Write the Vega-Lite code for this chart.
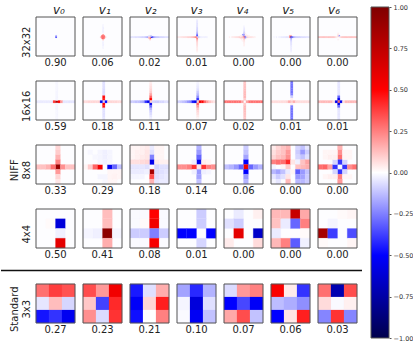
{"$schema":"https://vega.github.io/schema/vega-lite/v6.json","padding":{"left":0,"top":4,"right":0,"bottom":0},"background":"white","config":{"view":{"stroke":null},"text":{"font":"DejaVu Sans"},"title":{"font":"DejaVu Sans"},"axis":{"labelFont":"DejaVu Sans"}},"datasets":{
"d32":[{"c":0,"e":"0.90"},{"c":1,"e":"0.06"},{"c":2,"e":"0.02"},{"c":3,"e":"0.01"},{"c":4,"e":"0.00"},{"c":5,"e":"0.00"},{"c":6,"e":"0.00"},
{"c":0,"i":16,"j":16,"v":-0.5},{"c":0,"i":16,"j":15,"v":-0.2},
{"c":1,"i":16,"j":14,"v":0.2},{"c":1,"i":15,"j":15,"v":0.3},{"c":1,"i":16,"j":15,"v":0.35},{"c":1,"i":17,"j":15,"v":0.25},{"c":1,"i":14,"j":16,"v":0.12},{"c":1,"i":15,"j":16,"v":0.35},{"c":1,"i":16,"j":16,"v":0.3},{"c":1,"i":17,"j":16,"v":0.35},{"c":1,"i":18,"j":16,"v":0.1},{"c":1,"i":15,"j":17,"v":0.2},{"c":1,"i":16,"j":17,"v":0.4},{"c":1,"i":17,"j":17,"v":0.2},{"c":1,"i":16,"j":18,"v":0.15},{"c":1,"i":16,"j":6,"v":-0.02},{"c":1,"i":16,"j":7,"v":-0.02},{"c":1,"i":16,"j":8,"v":-0.03},{"c":1,"i":16,"j":9,"v":-0.03},{"c":1,"i":16,"j":10,"v":-0.03},{"c":1,"i":16,"j":11,"v":-0.03},{"c":1,"i":16,"j":12,"v":-0.03},{"c":1,"i":16,"j":20,"v":-0.03},{"c":1,"i":16,"j":21,"v":-0.03},{"c":1,"i":16,"j":22,"v":-0.03},{"c":1,"i":16,"j":23,"v":-0.03},{"c":1,"i":16,"j":24,"v":-0.02},{"c":1,"i":16,"j":25,"v":-0.02},
{"c":2,"i":0,"j":16,"v":-0.06},{"c":2,"i":1,"j":16,"v":-0.06},{"c":2,"i":2,"j":16,"v":-0.06},{"c":2,"i":3,"j":16,"v":-0.06},{"c":2,"i":4,"j":16,"v":-0.07},{"c":2,"i":5,"j":16,"v":-0.07},{"c":2,"i":6,"j":16,"v":-0.07},{"c":2,"i":7,"j":16,"v":-0.08},{"c":2,"i":8,"j":16,"v":-0.08},{"c":2,"i":9,"j":16,"v":-0.09},{"c":2,"i":10,"j":16,"v":-0.1},{"c":2,"i":11,"j":16,"v":-0.1},{"c":2,"i":12,"j":16,"v":-0.12},{"c":2,"i":13,"j":16,"v":-0.15},{"c":2,"i":14,"j":16,"v":-0.2},{"c":2,"i":15,"j":16,"v":0.15},{"c":2,"i":16,"j":16,"v":0.1},{"c":2,"i":17,"j":16,"v":-0.6},{"c":2,"i":18,"j":16,"v":-0.4},{"c":2,"i":19,"j":16,"v":-0.25},{"c":2,"i":20,"j":16,"v":-0.18},{"c":2,"i":21,"j":16,"v":-0.14},{"c":2,"i":22,"j":16,"v":-0.12},{"c":2,"i":23,"j":16,"v":-0.12},{"c":2,"i":24,"j":16,"v":-0.1},{"c":2,"i":25,"j":16,"v":-0.1},{"c":2,"i":26,"j":16,"v":-0.09},{"c":2,"i":27,"j":16,"v":-0.09},{"c":2,"i":28,"j":16,"v":-0.08},{"c":2,"i":29,"j":16,"v":-0.07},{"c":2,"i":30,"j":16,"v":-0.07},{"c":2,"i":31,"j":16,"v":-0.06},{"c":2,"i":16,"j":15,"v":-0.1},{"c":2,"i":16,"j":17,"v":0.35},{"c":2,"i":15,"j":17,"v":0.1},{"c":2,"i":15,"j":15,"v":-0.05},{"c":2,"i":16,"j":18,"v":0.1},{"c":2,"i":17,"j":15,"v":-0.1},
{"c":3,"i":16,"j":2,"v":-0.04},{"c":3,"i":16,"j":3,"v":-0.05},{"c":3,"i":16,"j":4,"v":-0.05},{"c":3,"i":16,"j":5,"v":-0.06},{"c":3,"i":16,"j":6,"v":-0.06},{"c":3,"i":16,"j":7,"v":-0.07},{"c":3,"i":16,"j":8,"v":-0.08},{"c":3,"i":16,"j":9,"v":-0.09},{"c":3,"i":16,"j":10,"v":-0.1},{"c":3,"i":16,"j":11,"v":-0.12},{"c":3,"i":16,"j":12,"v":-0.15},{"c":3,"i":16,"j":13,"v":-0.2},{"c":3,"i":16,"j":14,"v":-0.3},{"c":3,"i":16,"j":15,"v":-0.45},{"c":3,"i":16,"j":16,"v":0.1},{"c":3,"i":16,"j":17,"v":0.3},{"c":3,"i":16,"j":18,"v":0.2},{"c":3,"i":16,"j":19,"v":0.14},{"c":3,"i":16,"j":20,"v":0.11},{"c":3,"i":16,"j":21,"v":0.09},{"c":3,"i":16,"j":22,"v":0.08},{"c":3,"i":16,"j":23,"v":0.07},{"c":3,"i":16,"j":24,"v":0.06},{"c":3,"i":16,"j":25,"v":0.05},{"c":3,"i":16,"j":26,"v":0.05},{"c":3,"i":16,"j":27,"v":0.04},{"c":3,"i":16,"j":28,"v":0.03},{"c":3,"i":0,"j":16,"v":0.04},{"c":3,"i":1,"j":16,"v":0.05},{"c":3,"i":2,"j":16,"v":0.05},{"c":3,"i":3,"j":16,"v":0.06},{"c":3,"i":4,"j":16,"v":0.06},{"c":3,"i":5,"j":16,"v":0.07},{"c":3,"i":6,"j":16,"v":0.08},{"c":3,"i":7,"j":16,"v":0.08},{"c":3,"i":8,"j":16,"v":0.09},{"c":3,"i":9,"j":16,"v":0.1},{"c":3,"i":10,"j":16,"v":0.1},{"c":3,"i":11,"j":16,"v":0.12},{"c":3,"i":12,"j":16,"v":0.14},{"c":3,"i":13,"j":16,"v":0.16},{"c":3,"i":14,"j":16,"v":0.2},{"c":3,"i":15,"j":16,"v":0.3},{"c":3,"i":17,"j":16,"v":-0.12},{"c":3,"i":18,"j":16,"v":-0.06},{"c":3,"i":19,"j":16,"v":-0.04},{"c":3,"i":20,"j":16,"v":-0.03},{"c":3,"i":21,"j":16,"v":-0.03},{"c":3,"i":22,"j":16,"v":-0.03},{"c":3,"i":23,"j":16,"v":-0.03},{"c":3,"i":24,"j":16,"v":-0.03},
{"c":4,"i":15,"j":14,"v":-0.25},{"c":4,"i":16,"j":14,"v":-0.2},{"c":4,"i":15,"j":15,"v":-0.12},{"c":4,"i":16,"j":15,"v":-0.25},{"c":4,"i":17,"j":15,"v":0.08},{"c":4,"i":16,"j":16,"v":0.4},{"c":4,"i":17,"j":16,"v":-0.35},{"c":4,"i":18,"j":16,"v":-0.2},{"c":4,"i":16,"j":17,"v":0.2},{"c":4,"i":15,"j":17,"v":0.05},{"c":4,"i":17,"j":17,"v":-0.12},{"c":4,"i":15,"j":16,"v":0.15},{"c":4,"i":4,"j":16,"v":0.03},{"c":4,"i":6,"j":16,"v":0.04},{"c":4,"i":7,"j":16,"v":0.05},{"c":4,"i":8,"j":16,"v":0.05},{"c":4,"i":9,"j":16,"v":0.06},{"c":4,"i":10,"j":16,"v":0.07},{"c":4,"i":11,"j":16,"v":0.08},{"c":4,"i":12,"j":16,"v":0.1},{"c":4,"i":13,"j":16,"v":0.12},{"c":4,"i":14,"j":16,"v":0.14},{"c":4,"i":19,"j":16,"v":0.1},{"c":4,"i":20,"j":16,"v":0.08},{"c":4,"i":21,"j":16,"v":0.07},{"c":4,"i":22,"j":16,"v":0.06},{"c":4,"i":23,"j":16,"v":0.05},{"c":4,"i":24,"j":16,"v":0.04},{"c":4,"i":25,"j":16,"v":0.03},{"c":4,"i":16,"j":7,"v":-0.02},{"c":4,"i":16,"j":8,"v":-0.03},{"c":4,"i":16,"j":9,"v":-0.04},{"c":4,"i":16,"j":10,"v":-0.05},{"c":4,"i":16,"j":11,"v":-0.07},{"c":4,"i":16,"j":12,"v":-0.09},{"c":4,"i":16,"j":13,"v":-0.14},{"c":4,"i":16,"j":18,"v":0.1},{"c":4,"i":16,"j":19,"v":0.07},{"c":4,"i":16,"j":20,"v":0.05},{"c":4,"i":16,"j":21,"v":0.04},{"c":4,"i":16,"j":22,"v":0.03},{"c":4,"i":16,"j":23,"v":0.03},{"c":4,"i":13,"j":15,"v":0.03},{"c":4,"i":14,"j":15,"v":0.04},{"c":4,"i":18,"j":15,"v":0.05},{"c":4,"i":19,"j":15,"v":0.04},{"c":4,"i":20,"j":15,"v":0.03},{"c":4,"i":18,"j":14,"v":0.03},{"c":4,"i":17,"j":13,"v":0.03},{"c":4,"i":13,"j":17,"v":0.04},{"c":4,"i":14,"j":17,"v":0.05},{"c":4,"i":14,"j":18,"v":0.03},{"c":4,"i":15,"j":19,"v":0.03},{"c":4,"i":18,"j":17,"v":0.03},
{"c":5,"i":15,"j":15,"v":0.2},{"c":5,"i":16,"j":15,"v":0.2},{"c":5,"i":15,"j":16,"v":0.4},{"c":5,"i":16,"j":16,"v":-0.6},{"c":5,"i":17,"j":16,"v":-0.35},{"c":5,"i":18,"j":16,"v":-0.2},{"c":5,"i":16,"j":17,"v":-0.2},{"c":5,"i":14,"j":16,"v":-0.05},{"c":5,"i":19,"j":16,"v":-0.15},{"c":5,"i":20,"j":16,"v":-0.12},{"c":5,"i":21,"j":16,"v":-0.11},{"c":5,"i":22,"j":16,"v":-0.1},{"c":5,"i":23,"j":16,"v":-0.1},{"c":5,"i":24,"j":16,"v":-0.09},{"c":5,"i":25,"j":16,"v":-0.08},{"c":5,"i":26,"j":16,"v":-0.08},{"c":5,"i":27,"j":16,"v":-0.07},{"c":5,"i":28,"j":16,"v":-0.07},{"c":5,"i":29,"j":16,"v":-0.06},{"c":5,"i":30,"j":16,"v":-0.06},{"c":5,"i":31,"j":16,"v":-0.05},{"c":5,"i":2,"j":16,"v":-0.02},{"c":5,"i":4,"j":16,"v":-0.03},{"c":5,"i":6,"j":16,"v":-0.03},{"c":5,"i":7,"j":16,"v":-0.03},{"c":5,"i":8,"j":16,"v":-0.04},{"c":5,"i":9,"j":16,"v":-0.04},{"c":5,"i":10,"j":16,"v":-0.05},{"c":5,"i":11,"j":16,"v":-0.05},{"c":5,"i":12,"j":16,"v":-0.06},{"c":5,"i":13,"j":16,"v":-0.06},{"c":5,"i":16,"j":18,"v":-0.14},{"c":5,"i":16,"j":19,"v":-0.1},{"c":5,"i":16,"j":20,"v":-0.08},{"c":5,"i":16,"j":21,"v":-0.07},{"c":5,"i":16,"j":22,"v":-0.06},{"c":5,"i":16,"j":23,"v":-0.05},{"c":5,"i":16,"j":24,"v":-0.05},{"c":5,"i":16,"j":25,"v":-0.04},{"c":5,"i":16,"j":26,"v":-0.04},{"c":5,"i":16,"j":27,"v":-0.03},{"c":5,"i":16,"j":28,"v":-0.03},
{"c":6,"i":0,"j":16,"v":0.14},{"c":6,"i":1,"j":16,"v":0.14},{"c":6,"i":2,"j":16,"v":0.14},{"c":6,"i":3,"j":16,"v":0.14},{"c":6,"i":4,"j":16,"v":0.14},{"c":6,"i":5,"j":16,"v":0.14},{"c":6,"i":6,"j":16,"v":0.14},{"c":6,"i":7,"j":16,"v":0.14},{"c":6,"i":8,"j":16,"v":0.14},{"c":6,"i":9,"j":16,"v":0.14},{"c":6,"i":10,"j":16,"v":0.14},{"c":6,"i":11,"j":16,"v":0.14},{"c":6,"i":12,"j":16,"v":0.14},{"c":6,"i":13,"j":16,"v":0.12},{"c":6,"i":14,"j":16,"v":0.08},{"c":6,"i":15,"j":16,"v":0.05},{"c":6,"i":16,"j":15,"v":0.1},{"c":6,"i":17,"j":15,"v":-0.25},{"c":6,"i":17,"j":16,"v":0.04},{"c":6,"i":18,"j":16,"v":0.08},{"c":6,"i":19,"j":16,"v":0.12},{"c":6,"i":20,"j":16,"v":0.14},{"c":6,"i":21,"j":16,"v":0.14},{"c":6,"i":22,"j":16,"v":0.14},{"c":6,"i":23,"j":16,"v":0.14},{"c":6,"i":24,"j":16,"v":0.14},{"c":6,"i":25,"j":16,"v":0.14},{"c":6,"i":26,"j":16,"v":0.14},{"c":6,"i":27,"j":16,"v":0.14},{"c":6,"i":28,"j":16,"v":0.14},{"c":6,"i":29,"j":16,"v":0.14},{"c":6,"i":30,"j":16,"v":0.14},{"c":6,"i":31,"j":16,"v":0.14},{"c":6,"i":16,"j":14,"v":0.05},{"c":6,"i":16,"j":13,"v":0.03},{"c":6,"i":16,"j":18,"v":0.03}],
"d16":[{"c":0,"e":"0.59"},{"c":1,"e":"0.18"},{"c":2,"e":"0.11"},{"c":3,"e":"0.07"},{"c":4,"e":"0.02"},{"c":5,"e":"0.01"},{"c":6,"e":"0.01"},
{"c":0,"i":0,"j":8,"v":-0.04},{"c":0,"i":1,"j":8,"v":-0.04},{"c":0,"i":2,"j":8,"v":-0.04},{"c":0,"i":3,"j":8,"v":-0.04},{"c":0,"i":4,"j":8,"v":-0.04},{"c":0,"i":5,"j":8,"v":-0.04},{"c":0,"i":6,"j":8,"v":-0.04},{"c":0,"i":7,"j":8,"v":0.4},{"c":0,"i":8,"j":8,"v":0.8},{"c":0,"i":9,"j":8,"v":0.5},{"c":0,"i":10,"j":8,"v":0.2},{"c":0,"i":11,"j":8,"v":-0.05},{"c":0,"i":12,"j":8,"v":-0.05},{"c":0,"i":13,"j":8,"v":-0.05},{"c":0,"i":14,"j":8,"v":-0.05},{"c":0,"i":15,"j":8,"v":-0.05},{"c":0,"i":8,"j":0,"v":-0.015},{"c":0,"i":8,"j":1,"v":-0.015},{"c":0,"i":8,"j":2,"v":-0.015},{"c":0,"i":8,"j":3,"v":-0.015},{"c":0,"i":8,"j":4,"v":-0.02},{"c":0,"i":8,"j":5,"v":-0.02},{"c":0,"i":8,"j":6,"v":-0.02},{"c":0,"i":8,"j":7,"v":-0.02},{"c":0,"i":8,"j":9,"v":-0.02},{"c":0,"i":8,"j":10,"v":-0.02},{"c":0,"i":8,"j":11,"v":-0.02},{"c":0,"i":8,"j":12,"v":-0.015},{"c":0,"i":8,"j":13,"v":-0.015},{"c":0,"i":8,"j":14,"v":-0.015},{"c":0,"i":8,"j":15,"v":-0.015},
{"c":1,"i":8,"j":0,"v":-0.06},{"c":1,"i":8,"j":1,"v":-0.06},{"c":1,"i":8,"j":2,"v":-0.06},{"c":1,"i":8,"j":3,"v":-0.07},{"c":1,"i":8,"j":4,"v":-0.07},{"c":1,"i":8,"j":5,"v":-0.07},{"c":1,"i":8,"j":6,"v":0.48},{"c":1,"i":8,"j":7,"v":0.45},{"c":1,"i":8,"j":8,"v":-0.1},{"c":1,"i":8,"j":9,"v":0.5},{"c":1,"i":8,"j":10,"v":0.48},{"c":1,"i":8,"j":11,"v":-0.07},{"c":1,"i":8,"j":12,"v":-0.06},{"c":1,"i":8,"j":13,"v":-0.06},{"c":1,"i":8,"j":14,"v":-0.06},{"c":1,"i":8,"j":15,"v":-0.05},{"c":1,"i":0,"j":8,"v":0.07},{"c":1,"i":1,"j":8,"v":0.07},{"c":1,"i":2,"j":8,"v":0.08},{"c":1,"i":3,"j":8,"v":0.08},{"c":1,"i":4,"j":8,"v":0.08},{"c":1,"i":5,"j":8,"v":0.08},{"c":1,"i":6,"j":8,"v":0.08},{"c":1,"i":7,"j":8,"v":-0.55},{"c":1,"i":9,"j":8,"v":-0.5},{"c":1,"i":10,"j":8,"v":0.1},{"c":1,"i":11,"j":8,"v":0.08},{"c":1,"i":12,"j":8,"v":0.08},{"c":1,"i":13,"j":8,"v":0.08},{"c":1,"i":14,"j":8,"v":0.07},{"c":1,"i":15,"j":8,"v":0.07},
{"c":2,"i":8,"j":0,"v":0.03},{"c":2,"i":8,"j":1,"v":0.05},{"c":2,"i":8,"j":2,"v":0.06},{"c":2,"i":8,"j":3,"v":0.08},{"c":2,"i":8,"j":4,"v":0.1},{"c":2,"i":8,"j":5,"v":0.18},{"c":2,"i":8,"j":6,"v":0.3},{"c":2,"i":8,"j":7,"v":0.5},{"c":2,"i":8,"j":8,"v":0.1},{"c":2,"i":8,"j":9,"v":-0.55},{"c":2,"i":8,"j":10,"v":-0.3},{"c":2,"i":8,"j":11,"v":-0.15},{"c":2,"i":8,"j":12,"v":-0.1},{"c":2,"i":8,"j":13,"v":-0.07},{"c":2,"i":8,"j":14,"v":-0.05},{"c":2,"i":8,"j":15,"v":-0.03},{"c":2,"i":0,"j":8,"v":-0.1},{"c":2,"i":1,"j":8,"v":-0.1},{"c":2,"i":2,"j":8,"v":-0.12},{"c":2,"i":3,"j":8,"v":-0.12},{"c":2,"i":4,"j":8,"v":-0.15},{"c":2,"i":5,"j":8,"v":-0.18},{"c":2,"i":6,"j":8,"v":-0.4},{"c":2,"i":7,"j":8,"v":-0.55},{"c":2,"i":9,"j":8,"v":-0.08},{"c":2,"i":10,"j":8,"v":-0.1},{"c":2,"i":11,"j":8,"v":-0.1},{"c":2,"i":12,"j":8,"v":-0.08},{"c":2,"i":13,"j":8,"v":-0.08},{"c":2,"i":14,"j":8,"v":-0.06},{"c":2,"i":15,"j":8,"v":-0.06},
{"c":3,"i":8,"j":0,"v":-0.02},{"c":3,"i":8,"j":1,"v":-0.03},{"c":3,"i":8,"j":2,"v":-0.04},{"c":3,"i":8,"j":3,"v":-0.06},{"c":3,"i":8,"j":4,"v":-0.1},{"c":3,"i":8,"j":5,"v":-0.14},{"c":3,"i":8,"j":6,"v":-0.22},{"c":3,"i":8,"j":7,"v":-0.4},{"c":3,"i":8,"j":8,"v":0.1},{"c":3,"i":8,"j":9,"v":0.3},{"c":3,"i":8,"j":10,"v":0.2},{"c":3,"i":8,"j":11,"v":0.12},{"c":3,"i":8,"j":12,"v":0.08},{"c":3,"i":8,"j":13,"v":0.06},{"c":3,"i":8,"j":14,"v":0.04},{"c":3,"i":8,"j":15,"v":0.02},{"c":3,"i":0,"j":8,"v":-0.08},{"c":3,"i":1,"j":8,"v":-0.1},{"c":3,"i":2,"j":8,"v":-0.12},{"c":3,"i":3,"j":8,"v":-0.15},{"c":3,"i":4,"j":8,"v":-0.2},{"c":3,"i":5,"j":8,"v":-0.25},{"c":3,"i":6,"j":8,"v":-0.45},{"c":3,"i":7,"j":8,"v":-0.55},{"c":3,"i":9,"j":8,"v":0.55},{"c":3,"i":10,"j":8,"v":0.5},{"c":3,"i":11,"j":8,"v":0.3},{"c":3,"i":12,"j":8,"v":0.2},{"c":3,"i":13,"j":8,"v":0.12},{"c":3,"i":14,"j":8,"v":0.08},{"c":3,"i":15,"j":8,"v":0.05},
{"c":4,"i":8,"j":0,"v":0.11},{"c":4,"i":8,"j":1,"v":0.12},{"c":4,"i":8,"j":2,"v":0.12},{"c":4,"i":8,"j":3,"v":0.13},{"c":4,"i":8,"j":4,"v":0.13},{"c":4,"i":8,"j":5,"v":0.14},{"c":4,"i":8,"j":6,"v":0.14},{"c":4,"i":8,"j":7,"v":0.1},{"c":4,"i":8,"j":9,"v":0.1},{"c":4,"i":8,"j":10,"v":0.14},{"c":4,"i":8,"j":11,"v":0.14},{"c":4,"i":8,"j":12,"v":0.13},{"c":4,"i":8,"j":13,"v":0.12},{"c":4,"i":8,"j":14,"v":0.12},{"c":4,"i":8,"j":15,"v":0.11},{"c":4,"i":0,"j":8,"v":0.28},{"c":4,"i":1,"j":8,"v":0.28},{"c":4,"i":2,"j":8,"v":0.28},{"c":4,"i":3,"j":8,"v":0.28},{"c":4,"i":4,"j":8,"v":0.28},{"c":4,"i":5,"j":8,"v":0.28},{"c":4,"i":6,"j":8,"v":0.28},{"c":4,"i":7,"j":8,"v":0.18},{"c":4,"i":9,"j":8,"v":0.18},{"c":4,"i":10,"j":8,"v":0.28},{"c":4,"i":11,"j":8,"v":0.28},{"c":4,"i":12,"j":8,"v":0.28},{"c":4,"i":13,"j":8,"v":0.28},{"c":4,"i":14,"j":8,"v":0.28},{"c":4,"i":15,"j":8,"v":0.28},
{"c":5,"i":8,"j":0,"v":-0.28},{"c":5,"i":8,"j":1,"v":-0.28},{"c":5,"i":8,"j":2,"v":-0.28},{"c":5,"i":8,"j":3,"v":-0.28},{"c":5,"i":8,"j":4,"v":-0.28},{"c":5,"i":8,"j":5,"v":-0.26},{"c":5,"i":8,"j":6,"v":-0.1},{"c":5,"i":8,"j":7,"v":0.03},{"c":5,"i":8,"j":8,"v":0.1},{"c":5,"i":8,"j":9,"v":0.03},{"c":5,"i":8,"j":10,"v":-0.26},{"c":5,"i":8,"j":11,"v":-0.28},{"c":5,"i":8,"j":12,"v":-0.28},{"c":5,"i":8,"j":13,"v":-0.28},{"c":5,"i":8,"j":14,"v":-0.28},{"c":5,"i":8,"j":15,"v":-0.28},{"c":5,"i":0,"j":8,"v":0.07},{"c":5,"i":1,"j":8,"v":0.07},{"c":5,"i":2,"j":8,"v":0.07},{"c":5,"i":3,"j":8,"v":0.07},{"c":5,"i":4,"j":8,"v":0.07},{"c":5,"i":5,"j":8,"v":0.07},{"c":5,"i":6,"j":8,"v":0.08},{"c":5,"i":7,"j":8,"v":0.16},{"c":5,"i":9,"j":8,"v":0.16},{"c":5,"i":10,"j":8,"v":0.08},{"c":5,"i":11,"j":8,"v":0.07},{"c":5,"i":12,"j":8,"v":0.07},{"c":5,"i":13,"j":8,"v":0.07},{"c":5,"i":14,"j":8,"v":0.07},{"c":5,"i":15,"j":8,"v":0.07},
{"c":6,"i":8,"j":0,"v":-0.05},{"c":6,"i":8,"j":1,"v":-0.05},{"c":6,"i":8,"j":2,"v":-0.05},{"c":6,"i":8,"j":3,"v":-0.05},{"c":6,"i":8,"j":4,"v":-0.05},{"c":6,"i":8,"j":5,"v":-0.06},{"c":6,"i":8,"j":6,"v":-0.3},{"c":6,"i":8,"j":7,"v":-0.55},{"c":6,"i":8,"j":8,"v":0.3},{"c":6,"i":8,"j":9,"v":-0.55},{"c":6,"i":8,"j":10,"v":-0.3},{"c":6,"i":8,"j":11,"v":-0.06},{"c":6,"i":8,"j":12,"v":-0.05},{"c":6,"i":8,"j":13,"v":-0.05},{"c":6,"i":8,"j":14,"v":-0.05},{"c":6,"i":8,"j":15,"v":-0.05},{"c":6,"i":0,"j":8,"v":0.14},{"c":6,"i":1,"j":8,"v":0.14},{"c":6,"i":2,"j":8,"v":0.14},{"c":6,"i":3,"j":8,"v":0.14},{"c":6,"i":4,"j":8,"v":0.14},{"c":6,"i":5,"j":8,"v":0.14},{"c":6,"i":6,"j":8,"v":0.06},{"c":6,"i":7,"j":8,"v":-0.55},{"c":6,"i":9,"j":8,"v":-0.55},{"c":6,"i":10,"j":8,"v":0.06},{"c":6,"i":11,"j":8,"v":0.14},{"c":6,"i":12,"j":8,"v":0.14},{"c":6,"i":13,"j":8,"v":0.14},{"c":6,"i":14,"j":8,"v":0.14},{"c":6,"i":15,"j":8,"v":0.14}],
"d8":[{"c":0,"e":"0.33"},{"c":1,"e":"0.29"},{"c":2,"e":"0.18"},{"c":3,"e":"0.14"},{"c":4,"e":"0.06"},{"c":5,"e":"0.00"},{"c":6,"e":"0.00"},
{"c":0,"i":4,"j":0,"v":0.08},{"c":0,"i":4,"j":1,"v":0.1},{"c":0,"i":4,"j":2,"v":0.15},{"c":0,"i":4,"j":3,"v":0.25},{"c":0,"i":4,"j":4,"v":0.9},{"c":0,"i":4,"j":5,"v":0.2},{"c":0,"i":4,"j":6,"v":0.08},{"c":0,"i":4,"j":7,"v":0.05},{"c":0,"i":0,"j":4,"v":0.12},{"c":0,"i":1,"j":4,"v":0.12},{"c":0,"i":2,"j":4,"v":0.15},{"c":0,"i":3,"j":4,"v":0.28},{"c":0,"i":5,"j":4,"v":0.22},{"c":0,"i":6,"j":4,"v":0.12},{"c":0,"i":7,"j":4,"v":0.12},
{"c":1,"i":0,"j":4,"v":0.02},{"c":1,"i":1,"j":4,"v":0.1},{"c":1,"i":2,"j":4,"v":0.3},{"c":1,"i":3,"j":4,"v":0.55},{"c":1,"i":5,"j":4,"v":-0.55},{"c":1,"i":6,"j":4,"v":-0.3},{"c":1,"i":7,"j":4,"v":-0.12},{"c":1,"i":3,"j":1,"v":-0.02},{"c":1,"i":4,"j":1,"v":-0.03},{"c":1,"i":5,"j":1,"v":-0.02},{"c":1,"i":3,"j":2,"v":-0.02},{"c":1,"i":4,"j":2,"v":-0.03},{"c":1,"i":5,"j":2,"v":-0.02},{"c":1,"i":3,"j":3,"v":-0.02},{"c":1,"i":4,"j":3,"v":-0.03},{"c":1,"i":5,"j":3,"v":-0.02},{"c":1,"i":1,"j":1,"v":-0.015},{"c":1,"i":2,"j":2,"v":-0.015},{"c":1,"i":5,"j":5,"v":0.02},{"c":1,"i":6,"j":5,"v":0.02},{"c":1,"i":7,"j":5,"v":0.02},{"c":1,"i":5,"j":6,"v":0.02},{"c":1,"i":6,"j":6,"v":0.025},{"c":1,"i":7,"j":6,"v":0.02},{"c":1,"i":5,"j":7,"v":0.02},{"c":1,"i":6,"j":7,"v":0.02},{"c":1,"i":3,"j":6,"v":-0.02},{"c":1,"i":4,"j":6,"v":-0.02},{"c":1,"i":4,"j":7,"v":-0.015},
{"c":2,"i":4,"j":0,"v":-0.04},{"c":2,"i":4,"j":1,"v":-0.06},{"c":2,"i":4,"j":2,"v":-0.25},{"c":2,"i":4,"j":3,"v":-0.55},{"c":2,"i":4,"j":5,"v":0.85},{"c":2,"i":4,"j":6,"v":0.35},{"c":2,"i":4,"j":7,"v":0.15},{"c":2,"i":0,"j":0,"v":0.02},{"c":2,"i":1,"j":0,"v":0.02},{"c":2,"i":2,"j":0,"v":0.03},{"c":2,"i":3,"j":0,"v":0.04},{"c":2,"i":0,"j":1,"v":0.02},{"c":2,"i":1,"j":1,"v":0.03},{"c":2,"i":2,"j":1,"v":0.03},{"c":2,"i":3,"j":1,"v":0.05},{"c":2,"i":0,"j":2,"v":0.02},{"c":2,"i":1,"j":2,"v":0.03},{"c":2,"i":2,"j":2,"v":0.04},{"c":2,"i":3,"j":2,"v":0.05},{"c":2,"i":0,"j":3,"v":0.06},{"c":2,"i":1,"j":3,"v":0.06},{"c":2,"i":2,"j":3,"v":0.07},{"c":2,"i":3,"j":3,"v":0.08},{"c":2,"i":5,"j":0,"v":0.02},{"c":2,"i":6,"j":0,"v":0.02},{"c":2,"i":5,"j":1,"v":0.02},{"c":2,"i":6,"j":1,"v":0.02},{"c":2,"i":5,"j":2,"v":0.02},{"c":2,"i":6,"j":2,"v":0.02},{"c":2,"i":5,"j":3,"v":0.04},{"c":2,"i":6,"j":3,"v":0.03},{"c":2,"i":7,"j":3,"v":0.03},{"c":2,"i":0,"j":4,"v":-0.05},{"c":2,"i":1,"j":4,"v":-0.05},{"c":2,"i":2,"j":4,"v":-0.05},{"c":2,"i":3,"j":4,"v":-0.06},{"c":2,"i":5,"j":4,"v":-0.08},{"c":2,"i":6,"j":4,"v":-0.06},{"c":2,"i":7,"j":4,"v":-0.06},{"c":2,"i":0,"j":5,"v":-0.04},{"c":2,"i":1,"j":5,"v":-0.04},{"c":2,"i":2,"j":5,"v":-0.04},{"c":2,"i":3,"j":5,"v":-0.03},{"c":2,"i":5,"j":5,"v":-0.07},{"c":2,"i":6,"j":5,"v":-0.06},{"c":2,"i":7,"j":5,"v":-0.05},{"c":2,"i":0,"j":6,"v":-0.02},{"c":2,"i":1,"j":6,"v":-0.02},{"c":2,"i":2,"j":6,"v":-0.02},{"c":2,"i":5,"j":6,"v":-0.06},{"c":2,"i":6,"j":6,"v":-0.05},{"c":2,"i":7,"j":6,"v":-0.04},{"c":2,"i":5,"j":7,"v":-0.05},{"c":2,"i":6,"j":7,"v":-0.04},{"c":2,"i":7,"j":7,"v":-0.04},
{"c":3,"i":4,"j":0,"v":-0.15},{"c":3,"i":4,"j":1,"v":-0.2},{"c":3,"i":4,"j":2,"v":-0.3},{"c":3,"i":4,"j":3,"v":-0.55},{"c":3,"i":4,"j":4,"v":0.05},{"c":3,"i":4,"j":5,"v":-0.2},{"c":3,"i":4,"j":6,"v":-0.18},{"c":3,"i":4,"j":7,"v":-0.12},{"c":3,"i":0,"j":4,"v":0.22},{"c":3,"i":1,"j":4,"v":0.22},{"c":3,"i":2,"j":4,"v":0.25},{"c":3,"i":3,"j":4,"v":0.4},{"c":3,"i":5,"j":4,"v":0.4},{"c":3,"i":6,"j":4,"v":0.25},{"c":3,"i":7,"j":4,"v":0.22},{"c":3,"i":5,"j":3,"v":0.03},{"c":3,"i":6,"j":3,"v":0.02},{"c":3,"i":3,"j":3,"v":-0.03},{"c":3,"i":5,"j":5,"v":-0.03},{"c":3,"i":6,"j":5,"v":-0.02},{"c":3,"i":3,"j":5,"v":-0.03},
{"c":4,"i":4,"j":0,"v":-0.1},{"c":4,"i":4,"j":1,"v":-0.12},{"c":4,"i":4,"j":2,"v":-0.18},{"c":4,"i":4,"j":3,"v":-0.5},{"c":4,"i":4,"j":4,"v":0.55},{"c":4,"i":4,"j":5,"v":-0.5},{"c":4,"i":4,"j":6,"v":-0.2},{"c":4,"i":4,"j":7,"v":-0.15},{"c":4,"i":0,"j":4,"v":-0.12},{"c":4,"i":1,"j":4,"v":-0.15},{"c":4,"i":2,"j":4,"v":-0.2},{"c":4,"i":3,"j":4,"v":-0.3},{"c":4,"i":5,"j":4,"v":-0.3},{"c":4,"i":6,"j":4,"v":-0.2},{"c":4,"i":7,"j":4,"v":-0.15},
{"c":5,"i":0,"j":0,"v":0.04},{"c":5,"i":1,"j":0,"v":0.08},{"c":5,"i":2,"j":0,"v":0.12},{"c":5,"i":3,"j":0,"v":0.15},{"c":5,"i":5,"j":0,"v":-0.08},{"c":5,"i":6,"j":0,"v":-0.12},{"c":5,"i":7,"j":0,"v":-0.05},{"c":5,"i":0,"j":1,"v":0.06},{"c":5,"i":1,"j":1,"v":0.1},{"c":5,"i":2,"j":1,"v":0.12},{"c":5,"i":3,"j":1,"v":0.2},{"c":5,"i":5,"j":1,"v":-0.1},{"c":5,"i":6,"j":1,"v":-0.2},{"c":5,"i":7,"j":1,"v":-0.1},{"c":5,"i":0,"j":2,"v":0.08},{"c":5,"i":1,"j":2,"v":0.12},{"c":5,"i":2,"j":2,"v":0.14},{"c":5,"i":3,"j":2,"v":0.22},{"c":5,"i":5,"j":2,"v":-0.08},{"c":5,"i":6,"j":2,"v":-0.12},{"c":5,"i":7,"j":2,"v":-0.06},{"c":5,"i":0,"j":3,"v":0.25},{"c":5,"i":1,"j":3,"v":0.28},{"c":5,"i":2,"j":3,"v":0.28},{"c":5,"i":3,"j":3,"v":0.42},{"c":5,"i":4,"j":3,"v":0.05},{"c":5,"i":5,"j":3,"v":-0.03},{"c":5,"i":6,"j":3,"v":0.12},{"c":5,"i":7,"j":3,"v":0.18},{"c":5,"i":0,"j":4,"v":-0.02},{"c":5,"i":2,"j":4,"v":0.02},{"c":5,"i":3,"j":4,"v":0.1},{"c":5,"i":5,"j":4,"v":0.12},{"c":5,"i":6,"j":4,"v":0.14},{"c":5,"i":7,"j":4,"v":0.16},{"c":5,"i":0,"j":5,"v":-0.14},{"c":5,"i":1,"j":5,"v":-0.18},{"c":5,"i":2,"j":5,"v":-0.12},{"c":5,"i":3,"j":5,"v":-0.04},{"c":5,"i":4,"j":5,"v":0.02},{"c":5,"i":5,"j":5,"v":-0.32},{"c":5,"i":6,"j":5,"v":-0.2},{"c":5,"i":7,"j":5,"v":-0.12},{"c":5,"i":0,"j":6,"v":-0.05},{"c":5,"i":1,"j":6,"v":-0.1},{"c":5,"i":2,"j":6,"v":-0.06},{"c":5,"i":3,"j":6,"v":0.05},{"c":5,"i":5,"j":6,"v":-0.2},{"c":5,"i":6,"j":6,"v":-0.18},{"c":5,"i":7,"j":6,"v":-0.1},{"c":5,"i":0,"j":7,"v":-0.02},{"c":5,"i":1,"j":7,"v":-0.05},{"c":5,"i":3,"j":7,"v":0.14},{"c":5,"i":5,"j":7,"v":-0.14},{"c":5,"i":6,"j":7,"v":-0.14},{"c":5,"i":7,"j":7,"v":-0.1},
{"c":6,"i":4,"j":0,"v":0.15},{"c":6,"i":4,"j":1,"v":0.22},{"c":6,"i":4,"j":2,"v":0.28},{"c":6,"i":4,"j":3,"v":-0.4},{"c":6,"i":4,"j":5,"v":-0.4},{"c":6,"i":4,"j":6,"v":0.25},{"c":6,"i":4,"j":7,"v":0.2},{"c":6,"i":0,"j":4,"v":0.28},{"c":6,"i":1,"j":4,"v":0.3},{"c":6,"i":2,"j":4,"v":0.18},{"c":6,"i":3,"j":4,"v":-0.4},{"c":6,"i":5,"j":4,"v":-0.4},{"c":6,"i":6,"j":4,"v":0.22},{"c":6,"i":7,"j":4,"v":0.28},{"c":6,"i":3,"j":3,"v":-0.08},{"c":6,"i":5,"j":3,"v":-0.08},{"c":6,"i":3,"j":5,"v":-0.08},{"c":6,"i":5,"j":5,"v":-0.08},{"c":6,"i":1,"j":1,"v":0.02},{"c":6,"i":2,"j":1,"v":0.02},{"c":6,"i":3,"j":1,"v":0.02},{"c":6,"i":1,"j":2,"v":0.02},{"c":6,"i":2,"j":2,"v":0.03},{"c":6,"i":3,"j":2,"v":0.03},{"c":6,"i":5,"j":1,"v":0.02},{"c":6,"i":6,"j":1,"v":0.02},{"c":6,"i":5,"j":2,"v":0.02},{"c":6,"i":6,"j":2,"v":0.02},{"c":6,"i":1,"j":6,"v":0.02},{"c":6,"i":2,"j":6,"v":0.03},{"c":6,"i":3,"j":6,"v":0.03},{"c":6,"i":5,"j":6,"v":0.02},{"c":6,"i":6,"j":6,"v":0.02}],
"d4":[{"c":0,"e":"0.50"},{"c":1,"e":"0.41"},{"c":2,"e":"0.08"},{"c":3,"e":"0.01"},{"c":4,"e":"0.00"},{"c":5,"e":"0.00"},{"c":6,"e":"0.00"},
{"c":0,"i":1,"j":1,"v":0.01},{"c":0,"i":2,"j":1,"v":-0.6},{"c":0,"i":2,"j":2,"v":-0.03},{"c":0,"i":2,"j":3,"v":0.6},
{"c":1,"i":2,"j":0,"v":0.13},{"c":1,"i":2,"j":1,"v":0.13},{"c":1,"i":0,"j":2,"v":-0.02},{"c":1,"i":1,"j":2,"v":-0.03},{"c":1,"i":2,"j":2,"v":0.95},{"c":1,"i":3,"j":2,"v":-0.02},{"c":1,"i":2,"j":3,"v":0.16},
{"c":2,"i":0,"j":0,"v":-0.01},{"c":2,"i":1,"j":0,"v":-0.01},{"c":2,"i":2,"j":0,"v":0.5},{"c":2,"i":3,"j":0,"v":-0.01},{"c":2,"i":0,"j":1,"v":-0.01},{"c":2,"i":1,"j":1,"v":0.01},{"c":2,"i":2,"j":1,"v":0.55},{"c":2,"i":3,"j":1,"v":-0.01},{"c":2,"i":0,"j":2,"v":-0.1},{"c":2,"i":1,"j":2,"v":-0.1},{"c":2,"i":2,"j":2,"v":-0.25},{"c":2,"i":3,"j":2,"v":-0.1},{"c":2,"i":0,"j":3,"v":-0.01},{"c":2,"i":1,"j":3,"v":-0.01},{"c":2,"i":2,"j":3,"v":0.53},{"c":2,"i":3,"j":3,"v":-0.01},
{"c":3,"i":2,"j":0,"v":-0.1},{"c":3,"i":2,"j":1,"v":-0.1},{"c":3,"i":0,"j":2,"v":-0.5},{"c":3,"i":1,"j":2,"v":-0.5},{"c":3,"i":3,"j":2,"v":-0.5},{"c":3,"i":2,"j":3,"v":-0.08},
{"c":4,"i":1,"j":0,"v":-0.04},{"c":4,"i":3,"j":0,"v":0.03},{"c":4,"i":0,"j":1,"v":-0.06},{"c":4,"i":1,"j":1,"v":-0.1},{"c":4,"i":1,"j":2,"v":0.6},{"c":4,"i":3,"j":2,"v":-0.65},{"c":4,"i":0,"j":3,"v":0.04},{"c":4,"i":3,"j":3,"v":0.07},
{"c":5,"i":0,"j":0,"v":0.14},{"c":5,"i":1,"j":0,"v":0.14},{"c":5,"i":2,"j":0,"v":0.72},{"c":5,"i":3,"j":0,"v":0.17},{"c":5,"i":0,"j":1,"v":0.12},{"c":5,"i":1,"j":1,"v":-0.04},{"c":5,"i":2,"j":1,"v":-0.3},{"c":5,"i":3,"j":1,"v":0.25},{"c":5,"i":0,"j":2,"v":-0.04},{"c":5,"i":3,"j":2,"v":0.01},{"c":5,"i":0,"j":3,"v":0.14},{"c":5,"i":1,"j":3,"v":0.25},{"c":5,"i":2,"j":3,"v":-0.32},{"c":5,"i":3,"j":3,"v":-0.03},
{"c":6,"i":2,"j":0,"v":0.01},{"c":6,"i":3,"j":0,"v":0.02},{"c":6,"i":1,"j":1,"v":-0.02},{"c":6,"i":0,"j":2,"v":0.85},{"c":6,"i":1,"j":2,"v":-0.38},{"c":6,"i":3,"j":2,"v":-0.35},{"c":6,"i":0,"j":3,"v":0.01},{"c":6,"i":3,"j":3,"v":0.02}],
"d3":[{"c":0,"e":"0.27"},{"c":1,"e":"0.23"},{"c":2,"e":"0.21"},{"c":3,"e":"0.10"},{"c":4,"e":"0.07"},{"c":5,"e":"0.06"},{"c":6,"e":"0.03"},
{"c":0,"i":0,"j":0,"v":0.28},{"c":0,"i":1,"j":0,"v":0.38},{"c":0,"i":2,"j":0,"v":0.34},{"c":0,"i":0,"j":1,"v":-0.05},{"c":0,"i":1,"j":1,"v":0.13},{"c":0,"i":2,"j":1,"v":-0.08},{"c":0,"i":0,"j":2,"v":-0.46},{"c":0,"i":1,"j":2,"v":-0.4},{"c":0,"i":2,"j":2,"v":-0.54},
{"c":1,"i":0,"j":0,"v":0.35},{"c":1,"i":1,"j":0,"v":0.2},{"c":1,"i":2,"j":0,"v":0.55},{"c":1,"i":0,"j":1,"v":0.11},{"c":1,"i":1,"j":1,"v":-0.37},{"c":1,"i":2,"j":1,"v":0.42},{"c":1,"i":0,"j":2,"v":0.22},{"c":1,"i":1,"j":2,"v":-0.07},{"c":1,"i":2,"j":2,"v":0.4},
{"c":2,"i":0,"j":0,"v":-0.45},{"c":2,"i":1,"j":0,"v":-0.06},{"c":2,"i":2,"j":0,"v":0.16},{"c":2,"i":0,"j":1,"v":-0.52},{"c":2,"i":1,"j":1,"v":0.08},{"c":2,"i":2,"j":1,"v":0.44},{"c":2,"i":0,"j":2,"v":-0.47},{"c":2,"i":1,"j":2,"v":0},{"c":2,"i":2,"j":2,"v":0.25},
{"c":3,"i":0,"j":0,"v":-0.18},{"c":3,"i":1,"j":0,"v":-0.42},{"c":3,"i":2,"j":0,"v":-0.15},{"c":3,"i":0,"j":1,"v":-0.02},{"c":3,"i":1,"j":1,"v":-0.6},{"c":3,"i":2,"j":1,"v":-0.06},{"c":3,"i":0,"j":2,"v":-0.01},{"c":3,"i":1,"j":2,"v":-0.53},{"c":3,"i":2,"j":2,"v":-0.12},
{"c":4,"i":0,"j":0,"v":-0.07},{"c":4,"i":1,"j":0,"v":0.2},{"c":4,"i":2,"j":0,"v":0.25},{"c":4,"i":0,"j":1,"v":-0.5},{"c":4,"i":1,"j":1,"v":-0.36},{"c":4,"i":2,"j":1,"v":-0.52},{"c":4,"i":0,"j":2,"v":0.17},{"c":4,"i":1,"j":2,"v":0.35},{"c":4,"i":2,"j":2,"v":-0.12},
{"c":5,"i":0,"j":0,"v":0.52},{"c":5,"i":1,"j":0,"v":0.04},{"c":5,"i":2,"j":0,"v":-0.4},{"c":5,"i":0,"j":1,"v":-0.13},{"c":5,"i":1,"j":1,"v":-0.16},{"c":5,"i":2,"j":1,"v":-0.22},{"c":5,"i":0,"j":2,"v":-0.5},{"c":5,"i":1,"j":2,"v":0.05},{"c":5,"i":2,"j":2,"v":0.44},
{"c":6,"i":0,"j":0,"v":0.28},{"c":6,"i":1,"j":0,"v":-0.72},{"c":6,"i":2,"j":0,"v":0.35},{"c":6,"i":0,"j":1,"v":0.07},{"c":6,"i":1,"j":1,"v":-0.01},{"c":6,"i":2,"j":1,"v":0.03},{"c":6,"i":0,"j":2,"v":-0.24},{"c":6,"i":1,"j":2,"v":0.4},{"c":6,"i":2,"j":2,"v":-0.24}]},
"hconcat":[{"spacing":0,"vconcat":[
{"data":{"values":[{"n":"v₀"},{"n":"v₁"},{"n":"v₂"},{"n":"v₃"},{"n":"v₄"},{"n":"v₅"},{"n":"v₆"}]},"width":321,"height":1,"mark":{"type":"text","fontSize":12,"fontStyle":"italic","baseline":"middle","color":"#222"},"encoding":{"x":{"field":"n","type":"nominal","sort":null,"axis":null,"scale":{"paddingInner":0.17,"paddingOuter":0}},"y":{"value":3},"text":{"field":"n"}}},
{"spacing":9,"vconcat":[
{"spacing":12,"vconcat":[
{"data":{"name":"d32"},"bounds":"flush","spacing":8,"title":{"text":[" ","32x32"],"orient":"left","anchor":"middle","fontSize":10,"fontWeight":"normal","color":"#222","offset":4},"facet":{"column":{"field":"c","type":"ordinal","header":null}},"spec":{"width":39,"height":39,"layer":[
{"transform":[{"filter":"isValid(datum.e)"}],"mark":{"type":"rect","fill":"#fdfdff"},"encoding":{"x":{"value":0},"x2":{"value":39},"y":{"value":0},"y2":{"value":39}}},
{"transform":[{"filter":"isValid(datum.v)"}],"mark":{"type":"rect","strokeWidth":0.2},"encoding":{"x":{"field":"i","type":"ordinal","axis":null,"scale":{"domain":[0,1,2,3,4,5,6,7,8,9,10,11,12,13,14,15,16,17,18,19,20,21,22,23,24,25,26,27,28,29,30,31],"padding":0}},"y":{"field":"j","type":"ordinal","axis":null,"scale":{"domain":[0,1,2,3,4,5,6,7,8,9,10,11,12,13,14,15,16,17,18,19,20,21,22,23,24,25,26,27,28,29,30,31],"padding":0}},"color":{"field":"v","type":"quantitative","legend":null,"scale":{"interpolate":"rgb","domain":[-1,-0.5,0,0.5,1],"range":["#00004c","#0000ff","#ffffff","#ff0000","#7f0000"]}},"stroke":{"field":"v","type":"quantitative","legend":null,"scale":{"interpolate":"rgb","domain":[-1,-0.5,0,0.5,1],"range":["#00004c","#0000ff","#ffffff","#ff0000","#7f0000"]}}}},
{"transform":[{"filter":"isValid(datum.e)"}],"mark":{"type":"text","fontSize":10,"baseline":"middle","color":"#222"},"encoding":{"text":{"field":"e"},"x":{"value":19.5},"y":{"value":46}}},
{"transform":[{"filter":"isValid(datum.e)"}],"mark":{"type":"rect","fill":null,"stroke":"#555","strokeWidth":1},"encoding":{"x":{"value":0},"x2":{"value":39},"y":{"value":0},"y2":{"value":39}}}]}},
{"data":{"name":"d16"},"bounds":"flush","spacing":8,"title":{"text":[" ","16x16"],"orient":"left","anchor":"middle","fontSize":10,"fontWeight":"normal","color":"#222","offset":4},"facet":{"column":{"field":"c","type":"ordinal","header":null}},"spec":{"width":39,"height":39,"layer":[
{"transform":[{"filter":"isValid(datum.e)"}],"mark":{"type":"rect","fill":"#fdfdff"},"encoding":{"x":{"value":0},"x2":{"value":39},"y":{"value":0},"y2":{"value":39}}},
{"transform":[{"filter":"isValid(datum.v)"}],"mark":{"type":"rect","strokeWidth":0.2},"encoding":{"x":{"field":"i","type":"ordinal","axis":null,"scale":{"domain":[0,1,2,3,4,5,6,7,8,9,10,11,12,13,14,15],"padding":0}},"y":{"field":"j","type":"ordinal","axis":null,"scale":{"domain":[0,1,2,3,4,5,6,7,8,9,10,11,12,13,14,15],"padding":0}},"color":{"field":"v","type":"quantitative","legend":null,"scale":{"interpolate":"rgb","domain":[-1,-0.5,0,0.5,1],"range":["#00004c","#0000ff","#ffffff","#ff0000","#7f0000"]}},"stroke":{"field":"v","type":"quantitative","legend":null,"scale":{"interpolate":"rgb","domain":[-1,-0.5,0,0.5,1],"range":["#00004c","#0000ff","#ffffff","#ff0000","#7f0000"]}}}},
{"transform":[{"filter":"isValid(datum.e)"}],"mark":{"type":"text","fontSize":10,"baseline":"middle","color":"#222"},"encoding":{"text":{"field":"e"},"x":{"value":19.5},"y":{"value":46}}},
{"transform":[{"filter":"isValid(datum.e)"}],"mark":{"type":"rect","fill":null,"stroke":"#555","strokeWidth":1},"encoding":{"x":{"value":0},"x2":{"value":39},"y":{"value":0},"y2":{"value":39}}}]}},
{"data":{"name":"d8"},"bounds":"flush","spacing":8,"title":{"text":["NIFF","8x8"],"orient":"left","anchor":"middle","fontSize":10,"fontWeight":"normal","color":"#222","offset":4},"facet":{"column":{"field":"c","type":"ordinal","header":null}},"spec":{"width":39,"height":39,"layer":[
{"transform":[{"filter":"isValid(datum.e)"}],"mark":{"type":"rect","fill":"#fdfdff"},"encoding":{"x":{"value":0},"x2":{"value":39},"y":{"value":0},"y2":{"value":39}}},
{"transform":[{"filter":"isValid(datum.v)"}],"mark":{"type":"rect","strokeWidth":0.2},"encoding":{"x":{"field":"i","type":"ordinal","axis":null,"scale":{"domain":[0,1,2,3,4,5,6,7],"padding":0}},"y":{"field":"j","type":"ordinal","axis":null,"scale":{"domain":[0,1,2,3,4,5,6,7],"padding":0}},"color":{"field":"v","type":"quantitative","legend":null,"scale":{"interpolate":"rgb","domain":[-1,-0.5,0,0.5,1],"range":["#00004c","#0000ff","#ffffff","#ff0000","#7f0000"]}},"stroke":{"field":"v","type":"quantitative","legend":null,"scale":{"interpolate":"rgb","domain":[-1,-0.5,0,0.5,1],"range":["#00004c","#0000ff","#ffffff","#ff0000","#7f0000"]}}}},
{"transform":[{"filter":"isValid(datum.e)"}],"mark":{"type":"text","fontSize":10,"baseline":"middle","color":"#222"},"encoding":{"text":{"field":"e"},"x":{"value":19.5},"y":{"value":46}}},
{"transform":[{"filter":"isValid(datum.e)"}],"mark":{"type":"rect","fill":null,"stroke":"#555","strokeWidth":1},"encoding":{"x":{"value":0},"x2":{"value":39},"y":{"value":0},"y2":{"value":39}}}]}},
{"data":{"name":"d4"},"bounds":"flush","spacing":8,"title":{"text":[" ","4x4"],"orient":"left","anchor":"middle","fontSize":10,"fontWeight":"normal","color":"#222","offset":4},"facet":{"column":{"field":"c","type":"ordinal","header":null}},"spec":{"width":39,"height":39,"layer":[
{"transform":[{"filter":"isValid(datum.e)"}],"mark":{"type":"rect","fill":"#fdfdff"},"encoding":{"x":{"value":0},"x2":{"value":39},"y":{"value":0},"y2":{"value":39}}},
{"transform":[{"filter":"isValid(datum.v)"}],"mark":{"type":"rect","strokeWidth":0.2},"encoding":{"x":{"field":"i","type":"ordinal","axis":null,"scale":{"domain":[0,1,2,3],"padding":0}},"y":{"field":"j","type":"ordinal","axis":null,"scale":{"domain":[0,1,2,3],"padding":0}},"color":{"field":"v","type":"quantitative","legend":null,"scale":{"interpolate":"rgb","domain":[-1,-0.5,0,0.5,1],"range":["#00004c","#0000ff","#ffffff","#ff0000","#7f0000"]}},"stroke":{"field":"v","type":"quantitative","legend":null,"scale":{"interpolate":"rgb","domain":[-1,-0.5,0,0.5,1],"range":["#00004c","#0000ff","#ffffff","#ff0000","#7f0000"]}}}},
{"transform":[{"filter":"isValid(datum.e)"}],"mark":{"type":"text","fontSize":10,"baseline":"middle","color":"#222"},"encoding":{"text":{"field":"e"},"x":{"value":19.5},"y":{"value":46}}},
{"transform":[{"filter":"isValid(datum.e)"}],"mark":{"type":"rect","fill":null,"stroke":"#555","strokeWidth":1},"encoding":{"x":{"value":0},"x2":{"value":39},"y":{"value":0},"y2":{"value":39}}}]}}]},
{"spacing":11,"vconcat":[
{"data":{"values":[{"a":-35,"b":326}]},"width":321,"height":1,"mark":{"type":"rule","color":"#111","strokeWidth":1.3},"encoding":{"x":{"field":"a","type":"quantitative","axis":null,"scale":{"domain":[0,321]}},"x2":{"field":"b"}}},
{"data":{"name":"d3"},"bounds":"flush","spacing":8,"title":{"text":["Standard","3x3"],"orient":"left","anchor":"middle","fontSize":10,"fontWeight":"normal","color":"#222","offset":4},"facet":{"column":{"field":"c","type":"ordinal","header":null}},"spec":{"width":39,"height":39,"layer":[
{"transform":[{"filter":"isValid(datum.v)"}],"mark":{"type":"rect","strokeWidth":0.2},"encoding":{"x":{"field":"i","type":"ordinal","axis":null,"scale":{"domain":[0,1,2],"padding":0}},"y":{"field":"j","type":"ordinal","axis":null,"scale":{"domain":[0,1,2],"padding":0}},"color":{"field":"v","type":"quantitative","legend":null,"scale":{"interpolate":"rgb","domain":[-1,-0.5,0,0.5,1],"range":["#00004c","#0000ff","#ffffff","#ff0000","#7f0000"]}},"stroke":{"field":"v","type":"quantitative","legend":null,"scale":{"interpolate":"rgb","domain":[-1,-0.5,0,0.5,1],"range":["#00004c","#0000ff","#ffffff","#ff0000","#7f0000"]}}}},
{"transform":[{"filter":"isValid(datum.e)"}],"mark":{"type":"text","fontSize":10,"baseline":"middle","color":"#222"},"encoding":{"text":{"field":"e"},"x":{"value":19.5},"y":{"value":46}}},
{"transform":[{"filter":"isValid(datum.e)"}],"mark":{"type":"rect","fill":null,"stroke":"#555","strokeWidth":1},"encoding":{"x":{"value":0},"x2":{"value":39},"y":{"value":0},"y2":{"value":39}}}]}}]}]}]},
{"data":{"values":[{"lo":-1,"hi":1}]},"width":18,"height":331,"mark":{"type":"rect","stroke":"#555","strokeWidth":1,"fill":{"gradient":"linear","x1":0,"y1":1,"x2":0,"y2":0,"stops":[{"offset":0,"color":"#00004c"},{"offset":0.25,"color":"#0000ff"},{"offset":0.5,"color":"#ffffff"},{"offset":0.75,"color":"#ff0000"},{"offset":1,"color":"#7f0000"}]}},"encoding":{"y":{"field":"lo","type":"quantitative","title":null,"scale":{"domain":[-1,1]},"axis":{"orient":"right","values":[-1,-0.75,-0.5,-0.25,0,0.25,0.5,0.75,1],"format":".2f","labelFontSize":6.5,"labelColor":"#333","tickSize":2,"tickColor":"#555","grid":false,"domain":false,"labelPadding":2}},"y2":{"field":"hi"}}}],"spacing":7}
